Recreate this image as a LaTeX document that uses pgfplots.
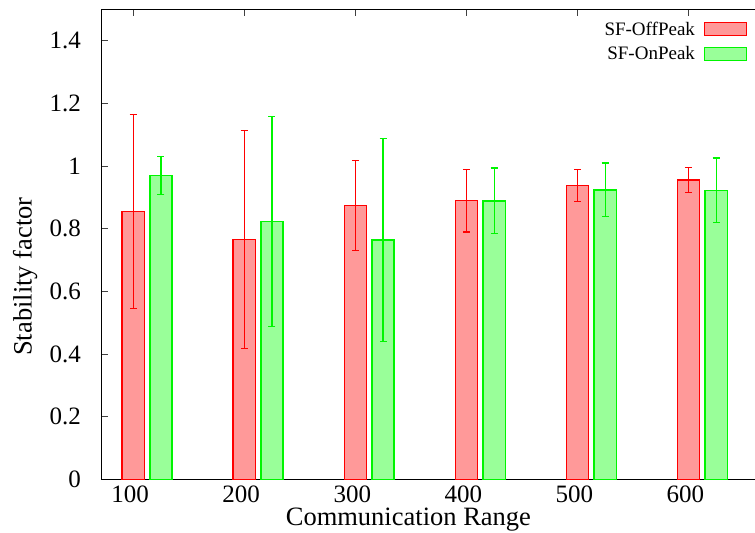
\documentclass[border=0pt]{standalone}
\usepackage{fontspec}
\setmainfont{Liberation Serif}
\usepackage{pgfplots}
\pgfplotsset{compat=1.18}
\definecolor{offfill}{RGB}{255,153,153}
\definecolor{onfill}{RGB}{153,255,153}
\definecolor{offline}{RGB}{255,0,0}
\definecolor{online}{RGB}{0,245,0}
\begin{document}
\begin{tikzpicture}
\begin{axis}[
  at={(101bp,53.5bp)}, anchor=south west,
  scale only axis, width=654bp, height=470bp,
  xmin=71, xmax=660, ymin=0, ymax=1.5,
  axis x line=box, axis y line=left,
  axis line style={-, line width=1bp, black},
  xtick={100,200,300,400,500,600},
  ytick={0,0.2,0.4,0.6,0.8,1,1.2,1.4},
  tick align=inside, major tick length=7bp,
  tick style={line width=0.8bp, black!75},
  /pgf/number format/assume math mode=true,
  ticklabel style={font=\fontsize{25bp}{30bp}\selectfont, inner sep=0pt},
  xticklabel style={yshift=-6.5bp, xshift=-3bp},
  yticklabel style={xshift=-20bp},
  xlabel={Communication Range}, ylabel={Stability factor},
  label style={font=\fontsize{26.5bp}{30bp}\selectfont, inner sep=0pt},
  xlabel style={at={(axis description cs:0.47,-0.0985)}, anchor=base},
  ylabel style={at={(axis description cs:-0.106,0.4315)}, anchor=base},
  legend plot pos=right, legend cell align=right,
  legend style={draw=none, fill=none, at={(axis description cs:0.988,0.974)}, anchor=north east,
    font=\fontsize{19bp}{22bp}\selectfont, inner sep=0pt, row sep=10bp, column sep=9bp,
    nodes={inner sep=0pt}},
  legend image code/.code={\draw[#1, line width=1bp] (0bp,-6.5bp) rectangle (42bp,6.5bp);},
]
\addplot[ybar, bar width=20, bar shift=0pt, fill=offfill, draw=offline, line width=1.3bp,
  error bars/.cd, y dir=both, y explicit,
  error bar style={line width=1.1bp, offline},
  error mark options={rotate=90, mark size=3.5bp, line width=1.1bp, offline}]
coordinates {
(100,0.855) +- (0,0.309)
(200,0.766) +- (0,0.349)
(300,0.874) +- (0,0.144)
(400,0.890) +- (0,0.100)
(500,0.938) +- (0,0.050)
(600,0.956) +- (0,0.040)
};
\addlegendentry{SF-OffPeak}
\addplot[ybar, bar width=20, bar shift=0pt, fill=onfill, draw=online, line width=1.3bp,
  error bars/.cd, y dir=both, y explicit,
  error bar style={line width=1.1bp, online},
  error mark options={rotate=90, mark size=3.5bp, line width=1.1bp, online}]
coordinates {
(125,0.970) +- (0,0.060)
(225,0.823) +- (0,0.335)
(325,0.764) +- (0,0.325)
(425,0.889) +- (0,0.105)
(525,0.924) +- (0,0.086)
(625,0.923) +- (0,0.103)
};
\addlegendentry{SF-OnPeak}
\end{axis}
\pgfresetboundingbox
\path[use as bounding box] (0,0) rectangle (755bp,533bp);
\end{tikzpicture}
\end{document}
